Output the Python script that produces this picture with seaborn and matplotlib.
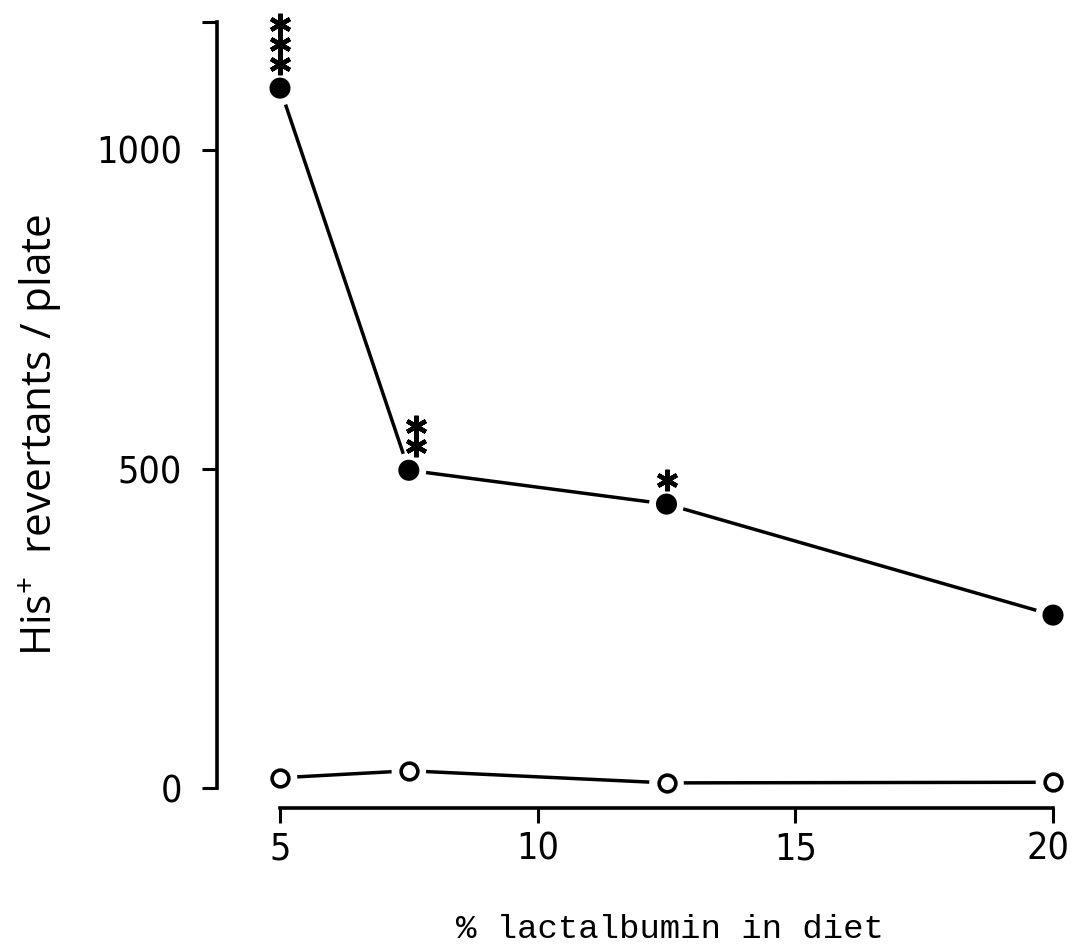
import matplotlib
matplotlib.use('Agg')
import matplotlib.pyplot as plt
import matplotlib.transforms as mtransforms
from matplotlib import font_manager as fm
import seaborn as sns
import pandas as pd

# values
lact = [5, 7.5, 12.5, 20]
treated = [1097, 498, 445, 271]
control = [16, 27, 8, 9]
stars = ['***', '**', '*', '']
star_dx = [0, 7, 0, 0]
xticks = [5, 10, 15, 20]
yticks = [0, 500, 1000, 1200]
yticklabels = ['0', '500', '1000', '']

sns.set_style('ticks')
plt.rcParams['font.family'] = ['Liberation Sans', 'DejaVu Sans']
plt.rcParams['mathtext.default'] = 'regular'
plt.rcParams['axes.labelcolor'] = 'black'

# tick labels in the original are a tall condensed face; pick one if installed
narrow = None
for fam in ['Liberation Sans Narrow', 'DejaVu Sans', 'Noto Sans', 'Roboto', 'Open Sans']:
    for f in fm.fontManager.ttflist:
        if f.name == fam and 'condensed' in str(f.stretch) and f.style == 'normal' \
                and f.weight in (400, 'normal', 'regular', 'book', 'Book'):
            narrow = f.fname
            break
    if narrow:
        break

df = pd.DataFrame({
    'pct': lact + lact,
    'rev': treated + control,
    'group': ['treated'] * 4 + ['control'] * 4,
})
tr_df = df[df['group'] == 'treated']
ct_df = df[df['group'] == 'control']

fig = plt.figure(figsize=(10.73, 9.47), dpi=100)
ax = fig.add_axes([280 / 1073, 159 / 947, 773 / 1073, 765.6 / 947])

# lines
sns.lineplot(data=df, x='pct', y='rev', hue='group',
             palette={'treated': 'black', 'control': 'black'},
             lw=2.5, legend=False, ax=ax, zorder=2)

# white halos leave a gap between line and marker
sns.scatterplot(data=tr_df, x='pct', y='rev', s=630, color='white',
                edgecolor='none', ax=ax, zorder=3, clip_on=False)
sns.scatterplot(data=ct_df, x='pct', y='rev', s=620, color='white',
                edgecolor='none', ax=ax, zorder=3, clip_on=False)

# markers
sns.scatterplot(data=tr_df, x='pct', y='rev', s=230, color='black',
                edgecolor='none', ax=ax, zorder=4, clip_on=False)
ax.scatter(ct_df['pct'], ct_df['rev'], s=145, facecolors='white',
           edgecolors='black', linewidths=2.6, zorder=4, clip_on=False)

# significance asterisks stacked above the points
for x, y, st, dx in zip(lact, treated, stars, star_dx):
    for k in range(len(st)):
        tr = mtransforms.offset_copy(ax.transData, x=dx, y=24 + 20 * k, units='dots')
        ax.plot(x, y, marker=(6, 2, 0), ms=15.5, mew=3.2, color='black',
                transform=tr, clip_on=False, zorder=5)

ax.set_xlim(5, 20)
ax.set_ylim(0, 1200)
ax.set_xticks(xticks)
ax.set_yticks(yticks, yticklabels)

sns.despine(ax=ax, offset={'left': 45.4, 'bottom': 14.4})
ax.spines['bottom'].set_bounds(5, 20)
ax.spines['left'].set_bounds(0, 1200)
for s in ['left', 'bottom']:
    ax.spines[s].set_linewidth(2.6)
    ax.spines[s].set_color('black')

ax.tick_params(length=10.8, width=2.2, direction='out', labelsize=27, colors='black')
ax.tick_params(axis='y', pad=14.5)
ax.tick_params(axis='x', pad=6)

if narrow:
    tick_fp = fm.FontProperties(fname=narrow, size=27)
else:
    tick_fp = fm.FontProperties(family='Liberation Sans', size=25)
for lab in ax.get_xticklabels() + ax.get_yticklabels():
    lab.set_fontproperties(tick_fp)

# last x label sits at the right edge of the page; nudge it in a little
last = ax.get_xticklabels()[-1]
last.set_transform(last.get_transform()
                   + mtransforms.ScaledTranslation(-5 / 100, 0, fig.dpi_scale_trans))

ax.set_xlabel('% lactalbumin in diet', fontsize=24.5,
              family=['Liberation Mono', 'DejaVu Sans'])
ax.xaxis.set_label_coords(0.505, -0.165)
ax.set_ylabel('His$^{+}$  revertants / plate', fontsize=30.5,
              family=['Open Sans', 'DejaVu Sans'])
ax.yaxis.set_label_coords(-0.279, 0.461)

fig.savefig('out.png', dpi=100)
